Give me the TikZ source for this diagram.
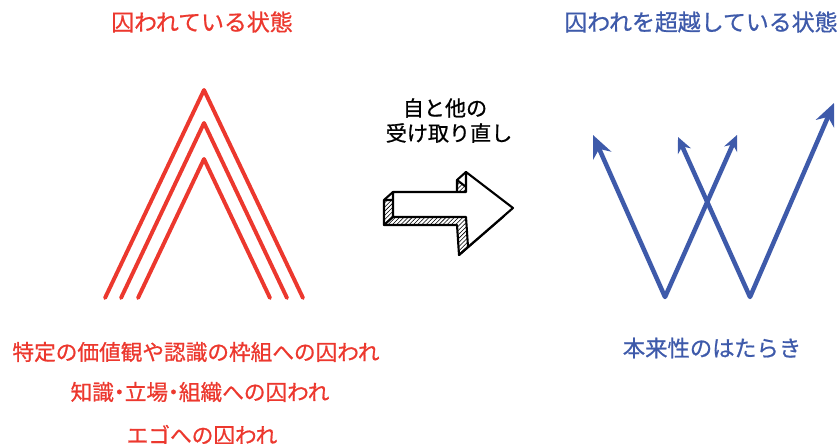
\documentclass[tikz,border=0pt]{standalone}
\usepackage{fontspec}
\usetikzlibrary{arrows.meta,patterns,calc}
\newfontfamily\jpfont[FakeBold=0.8]{Noto Sans CJK JP}
\definecolor{trapred}{RGB}{236,56,46}
\definecolor{freeblue}{RGB}{62,90,170}

\begin{document}
\begin{tikzpicture}[x=0.025cm, y=-0.025cm,
    jp/.style={inner sep=0pt, font=\jpfont\fontsize{#1}{#1}\selectfont},
    chevron/.style={trapred, line width=2.8pt, line cap=round, line join=round},
    wline/.style={freeblue, line width=3.2pt, line cap=round, line join=round},
    sketch/.style={black, line width=1.5pt, line join=round, line cap=round}]
    \useasboundingbox (0,0) rectangle (839,444);

    % headings
    \node[jp=16.3, text=trapred] (trapTitle) at (202,22) {囚われている状態};
    \node[jp=16.3, text=freeblue] (freeTitle) at (701,22) {囚われを超越している状態};

    % three nested chevrons, apex height / half spread at the feet
    \pgfmathsetmacro{\cx}{204}
    \pgfmathsetmacro{\foot}{298}
    \foreach \apex/\half in {90/99, 123/83, 159/66} {
        \draw[chevron] (\cx-\half,\foot) -- (\cx,\apex) -- (\cx+\half,\foot);
    }

    % W made of two crossing double arrows
    \coordinate (v1) at (665,297);
    \coordinate (v2) at (750,297);
    \coordinate (t1) at (593,135);
    \coordinate (t2) at (737,135);
    \coordinate (t3) at (678,137);
    \coordinate (t4) at (834,103);
    \draw[wline, {Stealth[length=16pt,width=14pt]}-{Stealth[length=11pt,width=10pt]}]
        (t1) -- (v1) -- (t2);
    \draw[wline, {Stealth[length=11pt,width=10pt]}-{Stealth[length=16pt,width=14pt]}]
        (t3) -- (v2) -- (t4);

    % caption over the block arrow
    \node[jp=15] (other1) at (445,108) {自と他の};
    \node[jp=15] (other2) at (449,133) {受け取り直し};

    % block arrow: hatched back face, then the white front face
    \coordinate (a) at (393,192);
    \coordinate (b) at (466,192);
    \coordinate (c) at (466,172);
    \coordinate (d) at (513,208);
    \coordinate (e) at (468,247);
    \coordinate (f) at (466,217);
    \coordinate (g) at (393,217);
    \foreach \p in {a,b,c,d,e,f,g} {
        \coordinate (\p') at ($(\p)+(-9,8)$);
    }
    \draw[sketch, pattern=north east lines]
        (a') -- (b') -- (c') -- (d') -- (e') -- (f') -- (g') -- cycle;
    \foreach \p in {a,c,e,g} {
        \draw[sketch] (\p) -- (\p');
    }
    \draw[sketch, fill=white] (a) -- (b) -- (c) -- (d) -- (e) -- (f) -- (g) -- cycle;

    % captions under the drawings
    \node[jp=15.4, text=trapred] (trap1) at (196,352) {特定の価値観や認識の枠組への囚われ};
    \node[jp=15.4, text=trapred] (trap2) at (200,392)
        {知識\kern-.25em・\kern-.25em立場\kern-.25em・\kern-.25em組織への囚われ};
    \node[jp=15.4, text=trapred] (trap3) at (202,435) {エゴへの囚われ};
    \node[jp=15.9, text=freeblue] (free1) at (712,348) {本来性のはたらき};
\end{tikzpicture}
\end{document}
